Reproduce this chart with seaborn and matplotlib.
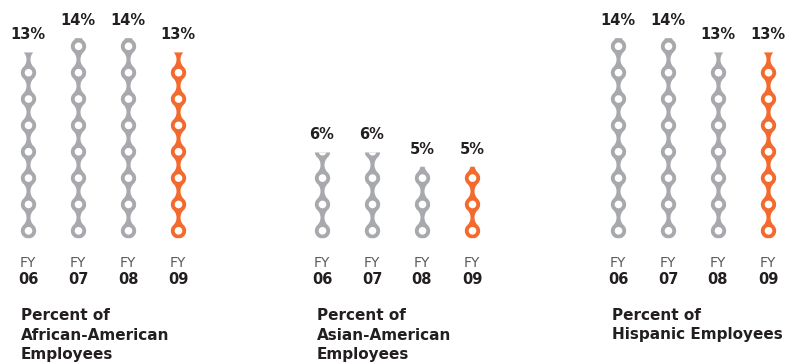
import numpy as np
import matplotlib
matplotlib.use("Agg")
import matplotlib.pyplot as plt
import seaborn as sns

# ---- data ----
years = ["06", "07", "08", "09"]
african_american = [13, 14, 14, 13]
asian_american = [6, 6, 5, 5]
hispanic = [14, 14, 13, 13]
panel_titles = [
    ["Percent of", "African-American", "Employees"],
    ["Percent of", "Asian-American", "Employees"],
    ["Percent of", "Hispanic Employees"],
]
panels = [african_american, asian_american, hispanic]

sns.set_style("white")
plt.rcParams["font.family"] = ["DejaVu Sans"]

W, H = 797, 362
fig = plt.figure(figsize=(W / 100, H / 100), dpi=100)

GRAY = "#A7A9AC"
ORANGE = "#F26A2E"
DARK = "#231F20"
FYCOL = "#5A5B5E"

PX_X = 50.0     # px per category step
PX_Y = 14.29    # px per percent
Y0 = 237.7      # pixel row (from top) of 0%
TOP = 9.0       # pixel row of axes top
R, r, SP, NECK = 7.65, 3.8, 26.35, 2.0
C0 = 7.4        # first ring centre above zero (px)
half = SP / 2
RC = (NECK ** 2 + half ** 2 - R ** 2) / (2 * R - 2 * NECK)
u_t = half * RC / (R + RC)


def chain_profile(yp):
    """outer and inner half widths (px) of the chain at height yp (px above 0)."""
    k = np.clip(np.round((yp - C0) / SP), 0, None)
    c = C0 + k * SP
    t = np.abs(yp - c)
    outer = np.where(t <= R, np.sqrt(np.clip(R ** 2 - t ** 2, 0, None)), 0.0)
    u = half - t
    conn = NECK + RC - np.sqrt(np.clip(RC ** 2 - u ** 2, 0, None))
    conn = np.where((u <= u_t) & (yp > C0), conn, 0.0)
    outer = np.maximum(outer, conn)
    inner = np.where(t < r, np.sqrt(np.clip(r ** 2 - t ** 2, 0, None)), 0.0)
    return outer, inner


col0_px = [28, 322, 618]
title_x = [21, 317, 612]

for p, (vals, c0) in enumerate(zip(panels, col0_px)):
    left = c0 - 0.56 * PX_X
    ax = fig.add_axes([left / W, (H - Y0) / H, 4 * PX_X / W, (Y0 - TOP) / H])
    ax.set_xlim(-0.56, 3.44)
    ax.set_ylim(0, (Y0 - TOP) / PX_Y)
    ax.axis("off")
    for i, v in enumerate(vals):
        col = ORANGE if i == len(vals) - 1 else GRAY
        yp = np.linspace(0, v * PX_Y, 1200)
        outer, inner = chain_profile(yp)
        yd = yp / PX_Y
        ax.fill_betweenx(yd, i - outer / PX_X, i + outer / PX_X, color=col, lw=0)
        ax.fill_betweenx(yd, i - inner / PX_X, i + inner / PX_X, color="white", lw=0)
        ax.text(i, v + 12.7 / PX_Y, f"{v}%", ha="center", va="baseline",
                fontsize=10.5, fontweight="bold", color=DARK)
        ax.text(i, -(267 - Y0) / PX_Y, "FY", ha="center", va="baseline",
                fontsize=10, fontweight="normal", color=FYCOL, clip_on=False)
        ax.text(i, -(284 - Y0) / PX_Y, years[i], ha="center", va="baseline",
                fontsize=10.5, fontweight="bold", color=DARK, clip_on=False)
    for j, line in enumerate(panel_titles[p]):
        fig.text(title_x[p] / W, 1 - (320.5 + 19 * j) / H, line, ha="left",
                 va="baseline", fontsize=11, fontweight="bold", color=DARK)

fig.savefig("out.png", dpi=100)
